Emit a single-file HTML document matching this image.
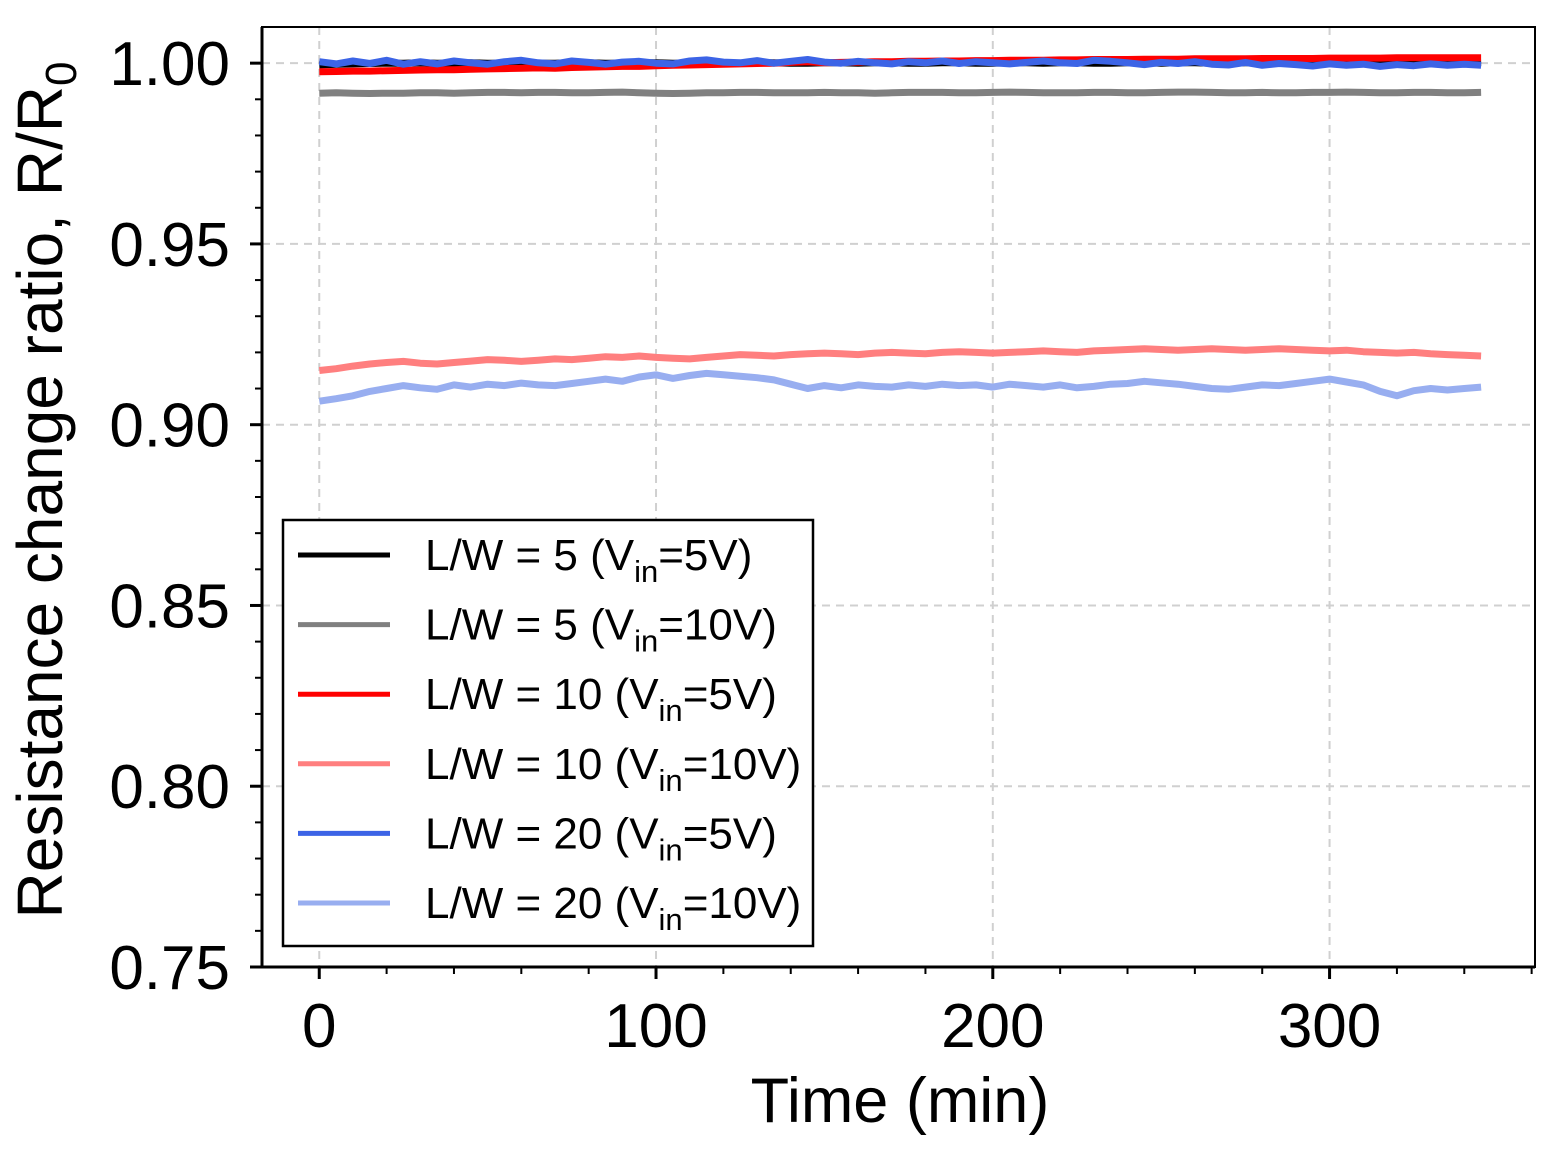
<!DOCTYPE html>
<html><head><meta charset="utf-8"><style>
body{margin:0;background:#fff}
svg text{font-family:"Liberation Sans",Arial,sans-serif}
</style></head><body>
<svg id="chart" width="1545" height="1147" viewBox="0 0 1545 1147" xmlns="http://www.w3.org/2000/svg">
<g id="grid"></g>
<g id="series"></g>
<g id="axes"></g>
<text x="900" y="1122" font-size="63" text-anchor="middle">Time (min)</text>
<text transform="translate(62,490) rotate(-90)" font-size="64" text-anchor="middle">Resistance change ratio, R/R<tspan font-size="44" dy="14">0</tspan></text>
<g id="legend"></g>
</svg>
<script>
const times=[];for(let t=0;t<=345;t+=5)times.push(t);
const sBlack=[0.9995,0.9997,0.9998,0.9999,1.0,1.0,1.0001,1.0,1.0,1.0001,1.0,1.0,1.0001,1.0,1.0,1.0001,1.0001,1.0,1.0,1.0001,1.0001,1.0,1.0,1.0001,1.0001,1.0,1.0001,1.0001,1.0,1.0,1.0001,1.0001,1.0,1.0001,1.0001,1.0,1.0,1.0001,1.0001,1.0,1.0,1.0001,1.0001,1.0,1.0001,1.0001,1.0,1.0,1.0001,1.0001,1.0,1.0001,1.0001,1.0,1.0,1.0001,1.0001,1.0,1.0001,1.0001,1.0,1.0,1.0001,1.0001,1.0,1.0001,1.0001,1.0,1.0,1.0001];
const sGray=[0.9917,0.9918,0.9917,0.9916,0.9917,0.9917,0.9918,0.9918,0.9917,0.9918,0.9919,0.9919,0.9918,0.9919,0.9919,0.9918,0.9918,0.9919,0.9920,0.9918,0.9917,0.9916,0.9917,0.9918,0.9918,0.9919,0.9919,0.9918,0.9918,0.9918,0.9919,0.9918,0.9918,0.9917,0.9918,0.9919,0.9919,0.9919,0.9918,0.9918,0.9919,0.9920,0.9919,0.9918,0.9918,0.9918,0.9919,0.9919,0.9918,0.9918,0.9919,0.9920,0.9920,0.9919,0.9918,0.9918,0.9919,0.9918,0.9918,0.9919,0.9919,0.9920,0.9919,0.9918,0.9918,0.9919,0.9919,0.9918,0.9918,0.9919];
const sRed=[0.9976,0.9977,0.9978,0.9978,0.9979,0.9980,0.9981,0.9982,0.9982,0.9983,0.9984,0.9985,0.9986,0.9987,0.9986,0.9988,0.9989,0.9990,0.9991,0.9991,0.9993,0.9994,0.9995,0.9996,0.9997,0.9998,0.9999,1.0,1.0002,1.0004,1.0001,1.0002,1.0003,1.0004,1.0004,1.0005,1.0005,1.0006,1.0006,1.0007,1.0007,1.0008,1.0008,1.0008,1.0009,1.0009,1.0010,1.0010,1.0010,1.0011,1.0011,1.0011,1.0012,1.0012,1.0012,1.0012,1.0013,1.0013,1.0013,1.0013,1.0014,1.0014,1.0014,1.0014,1.0015,1.0015,1.0015,1.0015,1.0015,1.0015];
const sPink=[0.9150,0.9155,0.9162,0.9168,0.9172,0.9175,0.9170,0.9168,0.9172,0.9176,0.9180,0.9178,0.9175,0.9178,0.9182,0.9180,0.9184,0.9188,0.9186,0.9190,0.9186,0.9184,0.9182,0.9186,0.9190,0.9194,0.9192,0.9190,0.9194,0.9196,0.9198,0.9196,0.9194,0.9198,0.9200,0.9198,0.9196,0.9200,0.9202,0.9200,0.9198,0.9200,0.9202,0.9204,0.9202,0.9200,0.9204,0.9206,0.9208,0.9210,0.9208,0.9206,0.9208,0.9210,0.9208,0.9206,0.9208,0.9210,0.9208,0.9206,0.9204,0.9206,0.9202,0.9200,0.9198,0.9200,0.9196,0.9194,0.9192,0.9190];
const sBlue=[1.0004,0.9998,1.0006,0.9999,1.0008,0.9997,1.0004,0.9998,1.0006,1.0001,0.9997,1.0004,1.0008,1.0001,0.9998,1.0006,1.0002,0.9997,1.0003,1.0005,1.0000,0.9998,1.0006,1.0009,1.0003,1.0001,1.0007,1.0000,1.0005,1.0010,1.0003,1.0000,1.0005,1.0001,0.9998,1.0004,1.0001,1.0006,0.9999,1.0004,1.0001,0.9998,1.0002,1.0006,1.0001,0.9999,1.0008,1.0005,1.0001,0.9996,1.0002,0.9999,1.0004,0.9997,0.9995,1.0002,0.9994,0.9999,0.9996,0.9992,0.9998,0.9994,0.9997,0.9991,0.9996,0.9993,0.9998,0.9994,0.9997,0.9994];
const sLight=[0.9065,0.9072,0.9080,0.9092,0.9100,0.9108,0.9102,0.9098,0.9110,0.9104,0.9112,0.9108,0.9115,0.9110,0.9108,0.9114,0.9120,0.9126,0.9120,0.9132,0.9138,0.9128,0.9136,0.9142,0.9138,0.9134,0.9130,0.9124,0.9112,0.9100,0.9108,0.9102,0.9110,0.9106,0.9104,0.9110,0.9106,0.9112,0.9108,0.9110,0.9104,0.9112,0.9108,0.9104,0.9110,0.9102,0.9106,0.9112,0.9114,0.9120,0.9116,0.9112,0.9106,0.9100,0.9098,0.9104,0.9110,0.9108,0.9114,0.9120,0.9126,0.9118,0.9110,0.9092,0.9080,0.9094,0.9100,0.9096,0.9100,0.9104];
const yTicks=[0.75,0.80,0.85,0.90,0.95,1.00];
const yTickLabels=["0.75","0.80","0.85","0.90","0.95","1.00"];
const xTicks=[0,100,200,300];
const xTickLabels=["0","100","200","300"];
const seriesNames=["L/W = 5 (V|=5V)","L/W = 5 (V|=10V)","L/W = 10 (V|=5V)","L/W = 10 (V|=10V)","L/W = 20 (V|=5V)","L/W = 20 (V|=10V)"];
const seriesColors=["#000000","#808080","#ff0000","#ff7f7f","#3c64e6","#98aef0"];
const seriesData=[sBlack,sGray,sRed,sPink,sBlue,sLight];

const L=262,R=1535,T=27,B=967;
const xMin=-17,xMax=361,yMin=0.75,yMax=1.01;
const X=v=>L+(v-xMin)/(xMax-xMin)*(R-L);
const Y=v=>B-(v-yMin)/(yMax-yMin)*(B-T);
const NS="http://www.w3.org/2000/svg";
function mk(tag,attrs,parent){const e=document.createElementNS(NS,tag);for(const k in attrs)e.setAttribute(k,attrs[k]);parent.appendChild(e);return e;}
const grid=document.getElementById('grid'),axes=document.getElementById('axes'),ser=document.getElementById('series'),leg=document.getElementById('legend');
yTicks.forEach((v,i)=>{
 if(v>0.75){const g=mk('line',{x1:L,x2:R,y1:Y(v),y2:Y(v),stroke:'#d0d0d0','stroke-width':2,'stroke-dasharray':'8,6'},grid);
 
 }
 const t=mk('line',{x1:L-12,x2:L,y1:Y(v),y2:Y(v),stroke:'#000','stroke-width':3},axes);
 
 
 const lb=mk('text',{x:L-32,y:Y(v)+22,'font-size':62,'text-anchor':'end'},axes);lb.textContent=yTickLabels[i];
 
 
});
for(let v=0.76;v<1.005;v+=0.01){if(Math.abs(v*20-Math.round(v*20))<1e-6)continue;
 const t=mk('line',{x1:L-7,x2:L,y1:Y(v),y2:Y(v),stroke:'#000','stroke-width':2},axes);
 
 }
xTicks.forEach((v,i)=>{
 const g=mk('line',{x1:X(v),x2:X(v),y1:T,y2:B,stroke:'#d0d0d0','stroke-width':2,'stroke-dasharray':'8,6'},grid);
 
 
 const t=mk('line',{x1:X(v),x2:X(v),y1:B,y2:B+12,stroke:'#000','stroke-width':3},axes);
 
 
 const lb=mk('text',{x:X(v),y:B+80,'font-size':62,'text-anchor':'middle'},axes);lb.textContent=xTickLabels[i];
 
 
});
for(let v=20;v<=360;v+=20){if(v%100===0)continue;
 const t=mk('line',{x1:X(v),x2:X(v),y1:B,y2:B+7,stroke:'#000','stroke-width':2},axes);
 
 }
const frame=mk('rect',{x:L,y:T,width:R-L,height:B-T,fill:'none',stroke:'#000','stroke-width':2},axes);


const la=mk('line',{x1:L,x2:L,y1:T,y2:B,stroke:'#000','stroke-width':3},axes);


const ba=mk('line',{x1:L,x2:R,y1:B,y2:B,stroke:'#000','stroke-width':3},axes);


const order=[1,3,5,0,2,4];
order.forEach(k=>{
 const d=seriesData[k].map((v,i)=>(i?'L':'M')+X(times[i]).toFixed(1)+','+Y(v).toFixed(1)).join(' ');
 const p=mk('path',{d:d,fill:'none',stroke:seriesColors[k],'stroke-width':7,'stroke-linejoin':'round'},ser);
 
 
});
const box=mk('rect',{x:283,y:520,width:530,height:426,fill:'#fff',stroke:'#000','stroke-width':2.5},leg);


seriesNames.forEach((n,i)=>{
 const y=555+i*69.6;
 const g=mk('g',{},leg);
 
 
 mk('line',{x1:298,x2:390,y1:y,y2:y,stroke:seriesColors[i],'stroke-width':5},g);
 const parts=n.split('|');
 const t=mk('text',{x:425,y:y+15,'font-size':44},g);
 t.appendChild(document.createTextNode(parts[0]));
 const s=mk('tspan',{'font-size':31,dy:12},t);s.textContent='in';
 const r=mk('tspan',{dy:-12},t);r.textContent=parts[1];
});
</script>
</body></html>
